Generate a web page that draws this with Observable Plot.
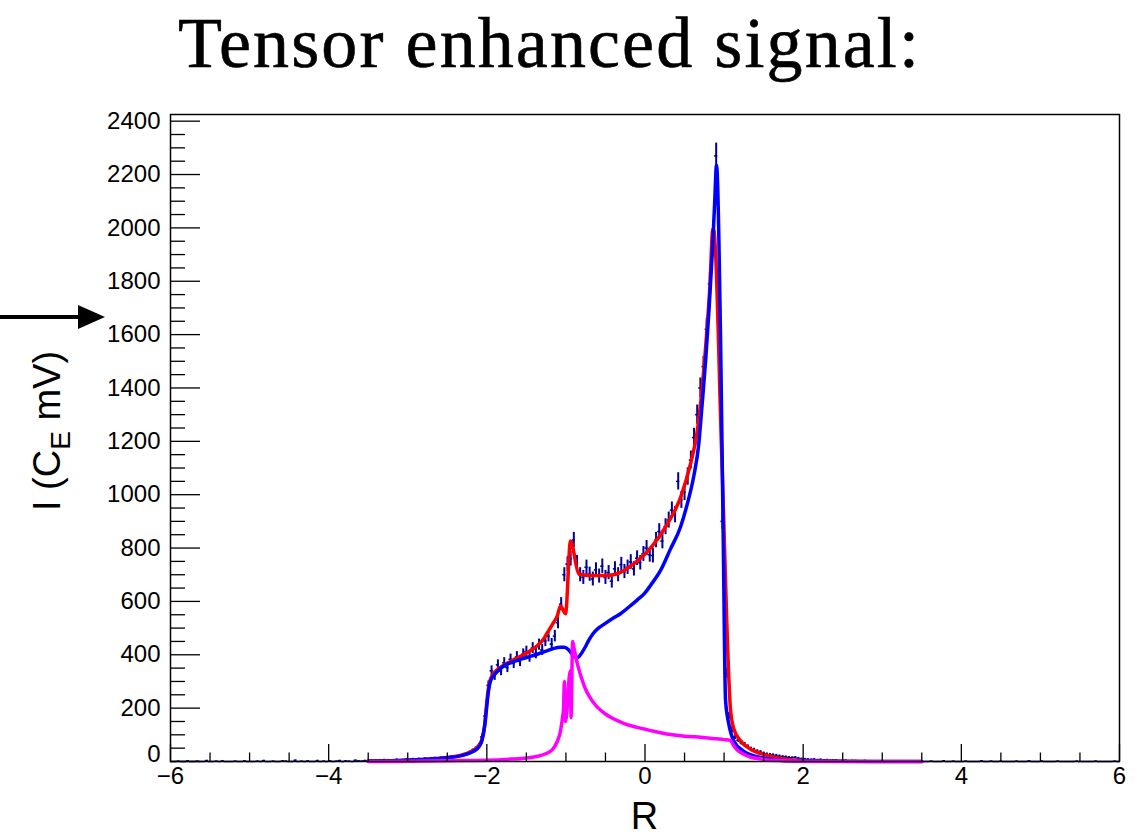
<!DOCTYPE html>
<html>
<head>
<meta charset="utf-8">
<script src="https://cdn.jsdelivr.net/npm/d3@7"></script>
<script src="https://cdn.jsdelivr.net/npm/@observablehq/plot@0.6"></script>
<style>
  html, body { margin: 0; padding: 0; background: #fff; }
  #wrap { position: relative; width: 1143px; height: 836px; overflow: hidden; background: #fff; }
  #title { position: absolute; left: 178px; top: 7px; font-family: "Liberation Serif", "Times New Roman", serif; font-size: 72px; line-height: 1; letter-spacing: 2.1px; color: #000; white-space: nowrap; -webkit-text-stroke: 0.6px #000; }
  #chart { position: absolute; left: 0; top: 105px; }
  #arrow { position: absolute; left: 0; top: 0; }
</style>
</head>
<body>
<div id="wrap">
  <div id="title">Tensor enhanced signal:</div>
  <div id="chart"></div>
  <svg id="arrow" width="120" height="400"><line x1="0" y1="317" x2="82" y2="317" stroke="#000" stroke-width="4"/><polygon points="78,305 105,317 78,329" fill="#000"/></svg>
</div>
<script>
// ---- tick values ----
const xMajorTicks = [-6, -4, -2, 0, 2, 4, 6];
const xMinorTicks = [-5.5, -5, -4.5, -3.5, -3, -2.5, -1.5, -1, -0.5, 0.5, 1, 1.5, 2.5, 3, 3.5, 4.5, 5, 5.5];
const yMajorTicks = [0, 200, 400, 600, 800, 1000, 1200, 1400, 1600, 1800, 2000, 2200, 2400];
const yMinorTicks = d3.range(50, 2401, 50).filter(v => v % 200 !== 0);

// ---- data histogram (bin width 0.04) ----
const binWidth = 0.04;
const leftTailStart = -5.98;
const leftTail = [0,0,1,0,0,2,0,0,1,0, 0,3,0,0,1,0,2,0,0,0, 1,0,0,2,0,0,0,1,0,3,
  0,0,1,0,0,2,1,0,0,4, 0,1,0,2,0,0,3,0,1,0, 2,0,1,3,0,2,1,0,4,2,
  1,3,2,5,3,2,4,6,3,5, 4,7,5,6,8,6,9,7,10,8, 11,9,12,13,11,14,15,13,16,18, 17];
const signalStart = -2.34;
const signal = [20,24,28,33,40,48,60,92,170,285,
  340,322,362,340,370,352,383,368,392,375,
  402,412,392,425,405,438,418,452,470,440,
  470,520,590,700,740,760,830,745,700,690,
  728,702,684,718,695,732,690,708,676,722,
  700,738,712,728,748,722,762,745,778,800,
  775,772,830,862,826,880,905,942,925,1050,
  980,1010,1068,1130,1214,1300,1400,1480,1620,1790,
  1980,2270,1750,900,330,170,118,92,80,70,
  63,55,47,43,38,35,30,27,25,24,
  22,20,18,17,15,14,15,12,10];
const rightTailStart = 2.02;
const rightTail = [9,8,7,8,6,7,5,6,4,5, 5,3,4,4,2,3,3,2,1,3, 2,1,2,0,1,2,1,0,1,0,
  2,0,1,0,0,1,0,2,0,0, 1,0,0,0,2,0,0,1,0,0, 0,1,0,0,0,0,2,0,0,1,
  0,0,1,0,0,0,0,1,0,0, 0,2,0,0,0,1,0,0,0,0, 1,0,0,0,0,0,1,0,0,0, 0,0,1,0,0,0,0,0,1,0];

// ---- fitted curves [R, I] ----
const totalFit = [[-3.5,2],[-3.0,5],[-2.7,9],[-2.5,15],[-2.35,22],[-2.25,30],[-2.17,42],[-2.1,60],[-2.06,85],[-2.03,130],[-2.01,190],[-1.99,250],[-1.97,290],[-1.94,318],[-1.9,335],[-1.83,352],[-1.7,375],[-1.57,395],[-1.45,415],[-1.36,435],[-1.28,460],[-1.24,480],[-1.17,514],[-1.11,545],[-1.068,583],[-1.005,554],[-0.942,826],[-0.837,703],[-0.75,698],[-0.65,697],[-0.48,697],[-0.31,709],[-0.14,742],[0.07,800],[0.28,889],[0.45,990],[0.575,1115],[0.66,1237],[0.72,1392],[0.777,1593],[0.82,1778],[0.858,1995],[0.872,1990],[0.97,1150],[1.08,200],[1.12,125],[1.21,77],[1.335,46],[1.545,23],[1.8,8],[2.0,4]];
const blueComp = [[-3.5,2],[-3.0,5],[-2.7,9],[-2.5,14],[-2.35,20],[-2.25,28],[-2.17,38],[-2.1,55],[-2.06,80],[-2.04,110],[-2.02,150],[-2.0,210],[-1.98,262],[-1.96,295],[-1.93,315],[-1.89,330],[-1.84,345],[-1.79,357],[-1.7,370],[-1.57,384],[-1.45,394],[-1.36,402],[-1.25,414],[-1.16,423],[-1.07,428],[-1.02,428],[-0.97,420],[-0.93,405],[-0.89,392],[-0.86,389],[-0.83,395],[-0.79,412],[-0.75,432],[-0.71,455],[-0.66,478],[-0.6,497],[-0.52,514],[-0.4,538],[-0.31,554],[-0.2,580],[-0.1,605],[0.0,632],[0.07,660],[0.2,718],[0.32,795],[0.45,880],[0.53,960],[0.617,1070],[0.68,1190],[0.72,1330],[0.766,1500],[0.808,1686],[0.85,1902],[0.88,2088],[0.904,2235],[0.955,1593],[0.99,820],[1.018,232],[1.06,140],[1.123,77],[1.25,38],[1.46,15],[1.75,4],[2.0,2],[2.5,1],[3.0,0],[3.5,0]];
const magentaComp = [[-3.5,0],[-3.0,1],[-2.5,3],[-2.0,5],[-1.7,9],[-1.5,13],[-1.35,20],[-1.25,30],[-1.17,45],[-1.11,75],[-1.07,112],[-1.045,160],[-1.03,195],[-1.02,300],[-1.005,150],[-0.945,340],[-0.935,165],[-0.915,450],[-0.9,428],[-0.88,400],[-0.86,372],[-0.84,350],[-0.8,310],[-0.75,270],[-0.7,242],[-0.65,220],[-0.6,203],[-0.5,178],[-0.4,160],[-0.3,147],[-0.2,136],[-0.1,128],[0.0,121],[0.1,114],[0.2,108],[0.3,102],[0.4,98],[0.5,95],[0.6,93],[0.7,91],[0.8,88],[0.9,85],[1.0,82],[1.08,79],[1.12,60],[1.17,42],[1.25,27],[1.34,16],[1.45,10],[1.55,6],[1.75,3],[2.0,1],[2.5,0],[3.5,0]];

// build bin table
function bins(start, values) {
  return values.map((v, i) => ({x: +(start + i * binWidth).toFixed(3), v, e: Math.sqrt(v)}));
}
const hist = [...bins(leftTailStart, leftTail), ...bins(signalStart, signal), ...bins(rightTailStart, rightTail)];

const navy = "#000099";
const fmtX = d => d < 0 ? "\u2212" + (-d) : String(d);

const chart = Plot.plot({
  width: 1143,
  height: 731,
  marginLeft: 170,
  marginRight: 24,
  marginTop: 9,
  marginBottom: 75,
  x: {domain: [-6, 6]},
  y: {domain: [0, 2425]},
  style: {fontFamily: "'Liberation Sans', Arial, sans-serif", fontSize: "24px", color: "#000", background: "#fff", overflow: "visible"},
  marks: [
    Plot.ruleY(hist, {y: "v", x1: d => d.x - binWidth / 2, x2: d => d.x + binWidth / 2, stroke: navy, strokeWidth: 1.6}),
    Plot.ruleX(hist, {x: "x", y1: d => Math.max(0, d.v - d.e), y2: d => d.v + d.e, stroke: navy, strokeWidth: 2}),
    Plot.line(totalFit, {x: d => d[0], y: d => d[1], stroke: "#ff0000", strokeWidth: 3.5, curve: "monotone-x"}),
    Plot.line(blueComp, {x: d => d[0], y: d => d[1], stroke: "#0000ff", strokeWidth: 3.5, curve: "monotone-x"}),
    Plot.line(magentaComp, {x: d => d[0], y: d => d[1], stroke: "#ff00ff", strokeWidth: 3.5, curve: "monotone-x"}),
    Plot.frame({stroke: "#000", strokeWidth: 1.5}),
    Plot.axisX(xMajorTicks, {tickSize: -17, fill: "none", label: null, strokeWidth: 1.3}),
    Plot.axisX(xMinorTicks, {tickSize: -8.5, fill: "none", label: null, strokeWidth: 1.3}),
    Plot.axisX(xMajorTicks, {tickSize: 0, tickPadding: 5, tickFormat: fmtX, label: null}),
    Plot.axisY(yMajorTicks, {tickSize: -30, fill: "none", label: null, strokeWidth: 1.3}),
    Plot.axisY(yMinorTicks, {tickSize: -15, fill: "none", label: null, strokeWidth: 1.3}),
    Plot.axisY(yMajorTicks.filter(v => v > 0), {tickSize: 0, tickPadding: 10, tickFormat: d => String(d), label: null}),
    Plot.axisY([0], {tickSize: 0, tickPadding: 10, dy: -7, tickFormat: d => String(d), label: null})
  ]
});
document.getElementById("chart").appendChild(chart);

// axis titles
const svg = d3.select(chart);
const sx = chart.scale("x");
svg.append("text")
  .attr("x", sx.apply(0)).attr("y", 724)
  .attr("text-anchor", "middle")
  .style("font-size", "38px").attr("fill", "#000")
  .text("R");
const yl = svg.append("text")
  .attr("transform", "translate(60,326) rotate(-90)")
  .attr("text-anchor", "middle")
  .style("font-size", "38px").attr("fill", "#000");
yl.append("tspan").text("I (C");
yl.append("tspan").attr("dy", 10).style("font-size", "28px").text("E");
yl.append("tspan").attr("dy", -10).text(" mV)");
</script>
</body>
</html>
